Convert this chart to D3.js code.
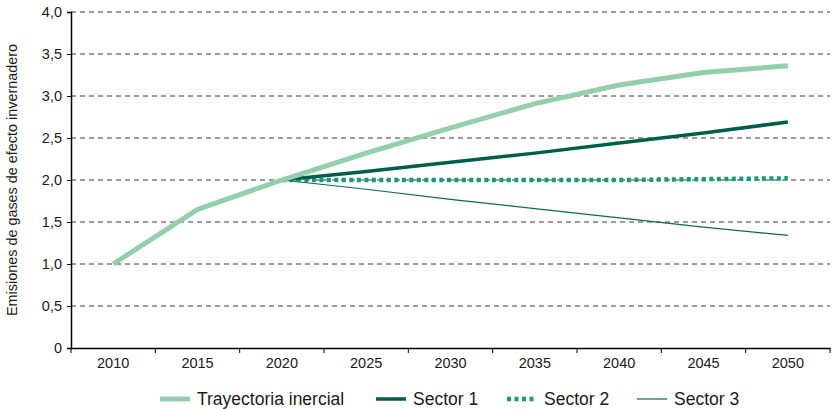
<!DOCTYPE html>
<html>
<head>
<meta charset="utf-8">
<script src="https://cdn.jsdelivr.net/npm/d3@7"></script>
<style>
  body { margin: 0; background: #fff; }
  text { font-family: "Liberation Sans", Arial, sans-serif; fill: #1a1a1a; }
</style>
</head>
<body>
<div id="chart"></div>
<script>
// data
var years = ["2010", "2015", "2020", "2025", "2030", "2035", "2040", "2045", "2050"];
var yTicks = [0, 0.5, 1, 1.5, 2, 2.5, 3, 3.5, 4];
var inercial = [1.0, 1.65, 2.0, 2.32, 2.62, 2.91, 3.13, 3.28, 3.36];
var sector1 = [null, null, 2.0, 2.1, 2.21, 2.32, 2.44, 2.56, 2.69];
var sector2 = [null, null, 2.0, 2.0, 2.0, 2.0, 2.0, 2.01, 2.02];
var sector3 = [null, null, 2.0, 1.89, 1.77, 1.66, 1.55, 1.44, 1.34];

var series = [
  { name: "Trayectoria inercial", values: inercial, color: "#92d0ab", width: 5, dash: null },
  { name: "Sector 1", values: sector1, color: "#005f4a", width: 3.5, dash: null },
  { name: "Sector 2", values: sector2, color: "#17997e", width: 4.5, dash: "4,3.5" },
  { name: "Sector 3", values: sector3, color: "#0b6a53", width: 1.2, dash: null }
];

var W = 832, H = 409;
var margin = { top: 12, right: 2, bottom: 61, left: 71 },
    width = W - margin.left - margin.right,
    height = H - margin.top - margin.bottom;

var svg = d3.select("#chart").append("svg")
    .attr("width", W).attr("height", H)
  .append("g")
    .attr("transform", "translate(" + margin.left + "," + margin.top + ")");

var x = d3.scaleBand().domain(years).range([0, width]);
var y = d3.scaleLinear().domain([0, 4]).range([height, 0]);

// grid lines
svg.selectAll(".grid")
  .data(yTicks.filter(function (d) { return d > 0; }))
  .enter().append("line")
    .attr("x1", 0).attr("x2", width)
    .attr("y1", function (d) { return y(d); })
    .attr("y2", function (d) { return y(d); })
    .attr("stroke", "#3a3a3a")
    .attr("stroke-width", 1)
    .attr("stroke-dasharray", "5,4");

// y axis
var yAxis = svg.append("g")
  .call(d3.axisLeft(y).tickValues(yTicks).tickSize(4).tickPadding(5)
    .tickFormat(function (d) { return d === 0 ? "0" : d3.format(".1f")(d).replace(".", ","); }));
yAxis.selectAll("text").style("font-size", "14.5px");
yAxis.select(".domain").attr("stroke", "#000").attr("stroke-width", 1.5);
yAxis.selectAll(".tick line").attr("stroke", "#000");

// x axis with ticks between categories
var xAxis = svg.append("g")
  .attr("transform", "translate(0," + height + ")")
  .call(d3.axisBottom(x).tickSize(0).tickPadding(10));
xAxis.selectAll("text").style("font-size", "14.5px");
xAxis.select(".domain").attr("stroke", "#000").attr("stroke-width", 1.5);
xAxis.selectAll(".sep")
  .data(years.concat(["end"]))
  .enter().append("line")
    .attr("x1", function (d, i) { return i * x.step(); })
    .attr("x2", function (d, i) { return i * x.step(); })
    .attr("y1", 0).attr("y2", 5)
    .attr("stroke", "#000");

// y label
svg.append("text")
  .attr("transform", "rotate(-90)")
  .attr("x", -height / 2)
  .attr("y", -54)
  .attr("text-anchor", "middle")
  .style("font-size", "14.4px")
  .text("Emisiones de gases de efecto invernadero");

// lines
var line = d3.line()
  .defined(function (d) { return d != null; })
  .x(function (d, i) { return x(years[i]) + x.bandwidth() / 2; })
  .y(function (d) { return y(d); });

series.slice().reverse().forEach(function (s) {
  svg.append("path")
    .datum(s.values)
    .attr("fill", "none")
    .attr("stroke", s.color)
    .attr("stroke-width", s.width)
    .attr("stroke-dasharray", s.dash)
    .attr("d", line);
});

// legend
var legendX = [89, 305, 436, 566];
var legend = svg.selectAll(".legend")
  .data(series)
  .enter().append("g")
    .attr("transform", function (d, i) { return "translate(" + legendX[i] + "," + (height + 51) + ")"; });
legend.append("line")
  .attr("x1", 0).attr("x2", 30)
  .attr("stroke", function (d) { return d.color; })
  .attr("stroke-width", function (d) { return d.width; })
  .attr("stroke-dasharray", function (d) { return d.dash; });
legend.append("text")
  .attr("x", 37)
  .attr("dy", "0.35em")
  .style("font-size", "17.5px")
  .text(function (d) { return d.name; });
</script>
</body>
</html>
